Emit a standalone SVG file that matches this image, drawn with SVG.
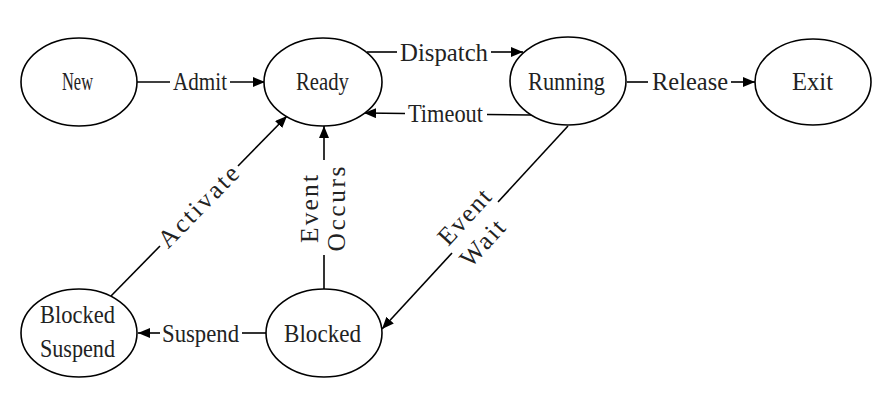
<svg xmlns="http://www.w3.org/2000/svg" width="876" height="408" viewBox="0 0 876 408">
<style>
.n{fill:#fff;stroke:#000;stroke-width:1.6}
.e{fill:none;stroke:#000;stroke-width:1.6}
.t{font-family:"Liberation Serif","Times New Roman",serif;font-size:25.5px;fill:#222;text-anchor:middle}
</style>
<defs>
<marker id="a" markerUnits="userSpaceOnUse" markerWidth="13" markerHeight="11" refX="12" refY="5" orient="auto">
<path d="M0,0 L12,5 L0,10 z" fill="#000"/>
</marker>
</defs>
<rect width="876" height="408" fill="#fff"/>
<g id="connectors">
<path class="e" d="M137,82 H170"/>
<path class="e" d="M230,82 H265" marker-end="url(#a)"/>
<path class="e" d="M367,52 H397"/>
<path class="e" d="M491,52 H523" marker-end="url(#a)"/>
<path class="e" d="M531,115 L487,114.5"/>
<path class="e" d="M405,113.5 L364,113" marker-end="url(#a)"/>
<path class="e" d="M627,82 H648"/>
<path class="e" d="M731,82 H755" marker-end="url(#a)"/>
<path class="e" d="M266,333 H242"/>
<path class="e" d="M160,333 H138" marker-end="url(#a)"/>
<path class="e" d="M111,296 L160,246"/>
<path class="e" d="M238,166 L287,116" marker-end="url(#a)"/>
<path class="e" d="M324,289 V255"/>
<path class="e" d="M324,160 V126" marker-end="url(#a)"/>
<path class="e" d="M568,126 L498,202"/>
<path class="e" d="M452,253 L382,329" marker-end="url(#a)"/>
<text class="t" x="200" y="90" textLength="54" lengthAdjust="spacingAndGlyphs">Admit</text>
<text class="t" x="444" y="61" textLength="88" lengthAdjust="spacingAndGlyphs">Dispatch</text>
<text class="t" x="445.5" y="122" textLength="75" lengthAdjust="spacingAndGlyphs">Timeout</text>
<text class="t" x="690" y="90" textLength="76" lengthAdjust="spacingAndGlyphs">Release</text>
<text class="t" x="200.5" y="342" textLength="77" lengthAdjust="spacingAndGlyphs">Suspend</text>
<g transform="translate(199,207) rotate(-45.6)">
<text class="t" x="0" y="7.5" textLength="104" lengthAdjust="spacing">Activate</text>
</g>
<g transform="translate(324,209) rotate(-90)">
<text class="t" x="0" y="-6" textLength="68" lengthAdjust="spacing">Event</text>
<text class="t" x="0" y="21" textLength="85" lengthAdjust="spacing">Occurs</text>
</g>
<g transform="translate(474,230) rotate(-47.5)">
<text class="t" x="3" y="-7.5" textLength="66" lengthAdjust="spacing">Event</text>
<text class="t" x="-4" y="23.5" textLength="54" lengthAdjust="spacing">Wait</text>
</g>
</g>
<g id="new"><ellipse class="n" cx="79" cy="82" rx="58" ry="44"/><text class="t" x="77.5" y="90" textLength="31" lengthAdjust="spacingAndGlyphs">New</text></g>
<g id="ready"><ellipse class="n" cx="323" cy="82" rx="59" ry="44"/><text class="t" x="322.5" y="90" textLength="53" lengthAdjust="spacingAndGlyphs">Ready</text></g>
<g id="running"><ellipse class="n" cx="568" cy="81" rx="58" ry="44"/><text class="t" x="566.5" y="90" textLength="77" lengthAdjust="spacingAndGlyphs">Running</text></g>
<g id="exit"><ellipse class="n" cx="813" cy="82" rx="58" ry="43"/><text class="t" x="812.5" y="90" textLength="41" lengthAdjust="spacingAndGlyphs">Exit</text></g>
<g id="blocked-suspend"><ellipse class="n" cx="79" cy="333" rx="58" ry="44"/><text class="t" x="77.5" y="323" textLength="75" lengthAdjust="spacingAndGlyphs">Blocked</text><text class="t" x="77.5" y="357" textLength="75" lengthAdjust="spacingAndGlyphs">Suspend</text></g>
<g id="blocked"><ellipse class="n" cx="324" cy="333" rx="58" ry="44"/><text class="t" x="322.5" y="342" textLength="77" lengthAdjust="spacingAndGlyphs">Blocked</text></g>
</svg>
